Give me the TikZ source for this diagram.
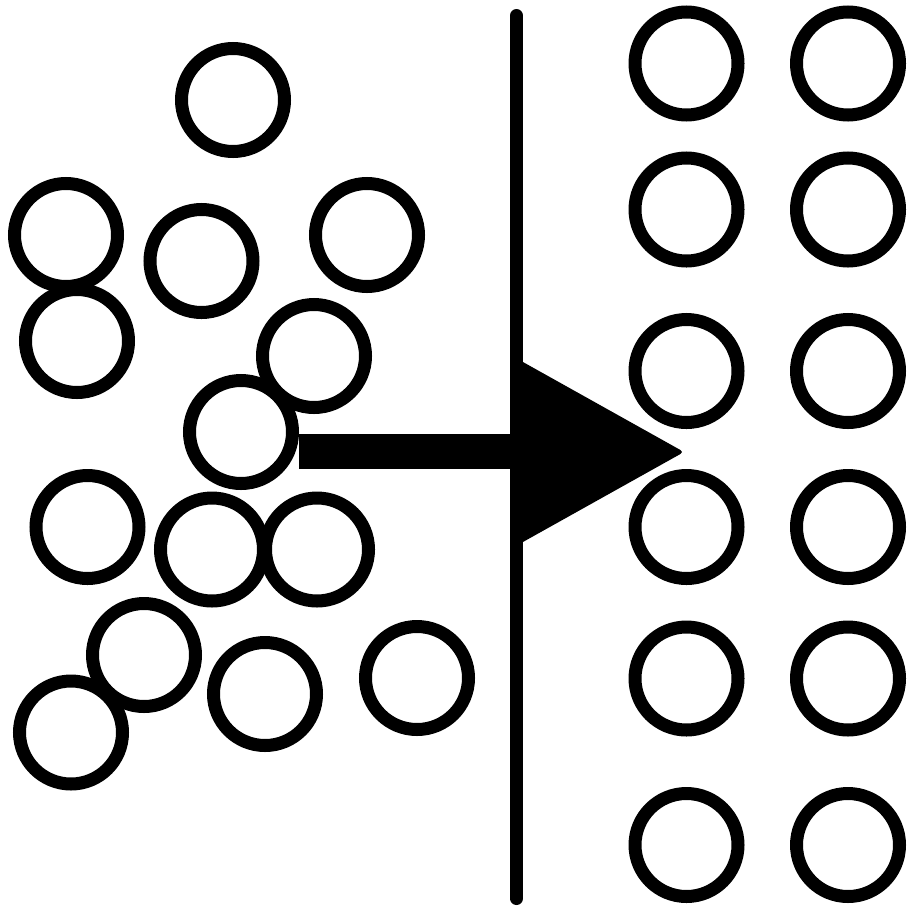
\documentclass[tikz,border=0pt]{standalone}
\begin{document}
\begin{tikzpicture}[x=1pt,y=-1pt,
  ball/.style={draw=black,line width=13pt,circle,inner sep=0pt,minimum size=103pt},
  wallline/.style={line width=13pt,line cap=round},
  shaft/.style={line width=35pt,line cap=butt},
  head/.style={fill=black,rounded corners=4pt}]
\useasboundingbox (0,0) rectangle (915,908);
% membrane
\coordinate (wtop) at (516.5,15.5);
\coordinate (wbot) at (516.5,898.5);
\draw[wallline] (wtop) -- (wbot);
% left, disordered particles
\node[ball] (l1) at (233,100) {};
\node[ball] (l2) at (66,235) {};
\node[ball] (l3) at (201.5,261) {};
\node[ball] (l4) at (367,235) {};
\node[ball] (l5) at (77,341) {};
\node[ball] (l6) at (314,356) {};
\node[ball] (l7) at (241,432) {};
\node[ball] (l8) at (87.5,527) {};
\node[ball] (l9) at (212,549.5) {};
\node[ball] (l10) at (317,549.5) {};
\node[ball] (l11) at (144,655) {};
\node[ball] (l12) at (265,694) {};
\node[ball] (l13) at (417,678) {};
\node[ball] (l14) at (71,732.5) {};
% right, ordered particles
\foreach \r/\y in {1/63.5,2/209.5,3/371,4/527,5/678.5,6/845}{
  \node[ball] (ra\r) at (686.5,\y) {};
  \node[ball] (rb\r) at (848,\y) {};
}
% arrow
\coordinate (wmid) at (516.5,451.5);
\coordinate (htop) at (514,357);
\coordinate (hbot) at (514,547);
\coordinate (tip) at (684,452);
\draw[shaft] (l7.east |- wmid) -- (wmid);
\fill[head] (htop) -- (tip) -- (hbot) -- cycle;
\end{tikzpicture}
\end{document}
